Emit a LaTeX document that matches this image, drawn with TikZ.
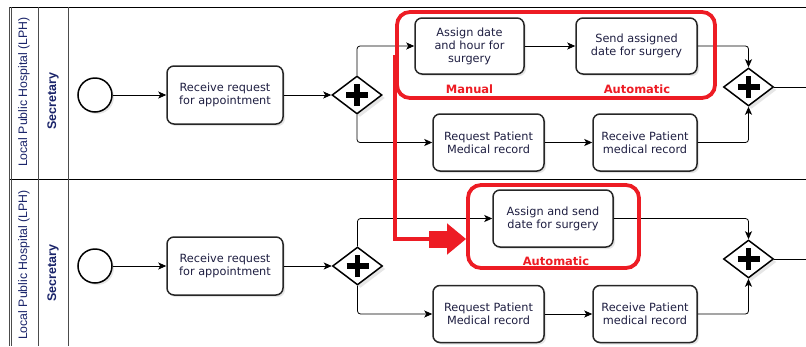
\documentclass[tikz,border=0pt]{standalone}
\usepackage{fontspec}
\setmainfont{DejaVu Sans}
\newfontfamily\lanefont{Liberation Sans}
\usetikzlibrary{shapes.geometric,arrows.meta,shadows}
\definecolor{frameRed}{RGB}{237,28,36}
\definecolor{taskInk}{RGB}{30,30,65}
\definecolor{laneInk}{RGB}{25,35,105}
\tikzset{
  task/.style={draw=black!85, line width=1.5pt, rounded corners=7pt, fill=white,
    align=center, text=taskInk, font=\fontsize{11.3}{13}\selectfont,
    minimum height=56pt, inner sep=2pt,
    drop shadow={opacity=0.2, shadow xshift=2pt, shadow yshift=-2pt}},
  gate/.style={diamond, draw=black, line width=1.5pt, fill=white,
    minimum width=50pt, minimum height=38pt, inner sep=0pt,
    drop shadow={opacity=0.2, shadow xshift=3pt, shadow yshift=-3pt}},
  startev/.style={circle, draw=black, line width=1.5pt, fill=white,
    minimum size=34pt, inner sep=0pt,
    drop shadow={opacity=0.2, shadow xshift=2pt, shadow yshift=-2pt}},
  flow/.style={line width=0.8pt, -{Stealth[length=8pt,width=7pt,inset=2pt]}, rounded corners=3pt},
  frame/.style={draw=frameRed, line width=3.8pt, rounded corners=13pt, inner sep=0pt},
  redlabel/.style={text=frameRed, font=\bfseries\fontsize{11.5}{13}\selectfont},
  pooltext/.style={rotate=90, text=laneInk, font=\lanefont\fontsize{12.3}{13}\selectfont},
  lanetext/.style={rotate=90, text=laneInk, font=\lanefont\bfseries\fontsize{12.5}{13}\selectfont},
}
\newcommand{\plusmark}[1]{%
  \draw[line width=5.5pt] ([xshift=-11pt]#1.center) -- ([xshift=11pt]#1.center);
  \draw[line width=5.5pt] ([yshift=-11pt]#1.center) -- ([yshift=11pt]#1.center);}
\begin{document}
\begin{tikzpicture}[x=1pt,y=-1pt]
\useasboundingbox (0,0) rectangle (806,346);
% pool and lane borders
\draw[line width=1pt] (9,7) -- (806,7);
\draw[line width=1pt] (9,179) -- (806,179);
\draw[black!70, line width=1pt] (9,7) -- (9,346);
\draw[black!70, line width=1pt] (11.5,7) -- (11.5,346);
\draw[black!70, line width=1pt] (38,7) -- (38,346);
\draw[black!70, line width=1pt] (68,7) -- (68,346);
\node[pooltext] (pool1) at (24,92) {Local Public Hospital (LPH)};
\node[lanetext] (sec1) at (53,101) {Secretary};
\node[pooltext] (pool2) at (24,265) {Local Public Hospital (LPH)};
\node[lanetext] (sec2) at (53,273) {Secretary};

% first process
\node[startev] (start1) at (95,95) {};
\node[task, minimum width=116pt, minimum height=58pt] (recv1) at (225,95) {Receive request\\for appointment};
\node[gate] (split1) at (357,95) {};
\plusmark{split1}
\node[task, minimum width=109pt] (assign) at (469.5,46) {Assign date\\and hour for\\surgery};
\node[task, minimum width=121pt] (send) at (636.5,46) {Send assigned\\date for surgery};
\node[task, minimum width=111pt, minimum height=57pt] (reqrec1) at (488.5,142.5) {Request Patient\\Medical record};
\node[task, minimum width=104pt, minimum height=57pt] (getrec1) at (645,142.5) {Receive Patient\\medical record};
\node[gate] (join1) at (748.5,87) {};
\plusmark{join1}
\coordinate (exit1) at (806,87);
\draw[flow] (start1) -- (recv1);
\draw[flow] (recv1) -- (split1);
\draw[flow] (split1.north) |- (assign.west);
\draw[flow] (assign) -- (send);
\draw[flow] (split1.south) |- (reqrec1.west);
\draw[flow] (reqrec1) -- (getrec1);
\draw[flow] (send.east) -| (join1.north);
\draw[flow] (getrec1.east) -| (join1.south);
\draw[line width=0.8pt] (join1.east) -- (exit1);

% second process
\node[startev] (start2) at (95,266) {};
\node[task, minimum width=116pt, minimum height=58pt] (recv2) at (225,266) {Receive request\\for appointment};
\node[gate] (split2) at (357.5,266) {};
\plusmark{split2}
\node[task, minimum width=120pt, minimum height=57pt] (assignsend) at (553,218.5) {Assign and send\\date for surgery};
\node[task, minimum width=111pt, minimum height=57pt] (reqrec2) at (488.5,314) {Request Patient\\Medical record};
\node[task, minimum width=104pt, minimum height=57pt] (getrec2) at (645,314) {Receive Patient\\medical record};
\node[gate] (join2) at (748.5,259) {};
\plusmark{join2}
\coordinate (exit2) at (806,259);
\draw[flow] (start2) -- (recv2);
\draw[flow] (recv2) -- (split2);
\draw[flow] (split2.north) |- (assignsend.west);
\draw[flow] (split2.south) |- (reqrec2.west);
\draw[flow] (reqrec2) -- (getrec2);
\draw[flow] (assignsend.east) -| (join2.north);
\draw[flow] (getrec2.east) -| (join2.south);
\draw[line width=0.8pt] (join2.east) -- (exit2);

% red frames
\node[frame, minimum width=318pt, minimum height=86pt] (redA) at (556,55) {};
\node[redlabel] (manual) at (469.5,89) {Manual};
\node[redlabel] (auto1) at (637,89) {Automatic};
\node[frame, minimum width=171pt, minimum height=83pt] (redB) at (553.5,226.5) {};
\node[redlabel] (auto2) at (556,261) {Automatic};
\coordinate (redturn) at (429,239);
\draw[frameRed, line width=3.8pt] (redA.west) |- (redturn);
\draw[frameRed, line width=17pt, -{Triangle[length=19pt,width=30pt]}] (redturn) -- (redturn -| redB.west);
\end{tikzpicture}
\end{document}
